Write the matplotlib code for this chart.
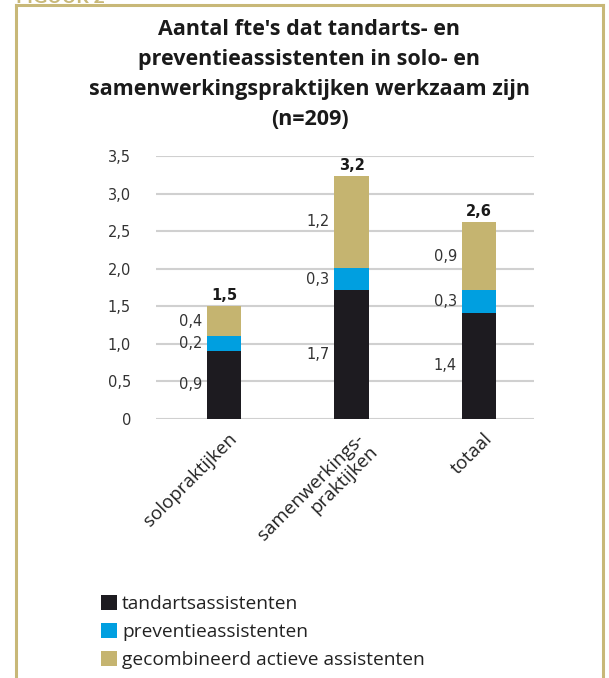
import matplotlib
matplotlib.use("Agg")
import matplotlib.pyplot as plt
import matplotlib.transforms as mtransforms
from matplotlib.lines import Line2D
import numpy as np

# data
categories = ["solopraktijken", "samenwerkings-\npraktijken", "totaal"]
tandarts = [0.90, 1.71, 1.41]
preventie = [0.20, 0.30, 0.30]
gecombineerd = [0.40, 1.23, 0.92]
series_names = ["tandartsassistenten", "preventieassistenten", "gecombineerd actieve assistenten"]
yticks = [0, 0.5, 1.0, 1.5, 2.0, 2.5, 3.0, 3.5]
title = "Aantal fte's dat tandarts- en\npreventieassistenten in solo- en\nsamenwerkingspraktijken werkzaam zijn\n(n=209)"

colors = ["#1d1b20", "#009fe0", "#c5b470"]
gold = "#c8b878"
W, H = 609, 678


def fx(px):
    return px / W


def fy(py):
    return 1 - py / H


def nl(v):
    return f"{v:.1f}".replace(".", ",")


fig = plt.figure(figsize=(W / 100, H / 100), dpi=100)
ax = fig.add_axes([fx(156), fy(419), fx(534) - fx(156), fy(156) - fy(419)])

x = np.arange(len(categories))
width = 0.267
stacks = [tandarts, preventie, gecombineerd]
bottom = np.zeros(len(categories))
handles = []
for vals, col, name in zip(stacks, colors, series_names):
    vals = np.array(vals)
    bars = ax.bar(x, vals, width, bottom=bottom, color=col, label=name, zorder=3)
    handles.append(bars)
    # segment labels left of the bar
    for xi, b, v in zip(x, bottom, vals):
        ax.annotate(nl(v), xy=(xi - width / 2, b + v / 2), xytext=(-5, 0),
                    textcoords="offset pixels", ha="right", va="center",
                    fontsize=10.5, color="#333333", family="DejaVu Sans")
    bottom = bottom + vals

# totals above bars
for xi, t in zip(x, bottom):
    ax.annotate(nl(t), xy=(xi, t), xytext=(0, 3), textcoords="offset pixels",
                ha="center", va="bottom", fontsize=10.5, fontweight="bold",
                color="#1a1a1a", family="DejaVu Sans")

ax.set_xlim(-0.533, 2.431)
ax.set_ylim(-0.004, 3.504)
ax.set_yticks(yticks)
ax.set_yticklabels([("0" if t == 0 else nl(t)) for t in yticks],
                   fontsize=10.5, color="#333333", family="DejaVu Sans")
ax.yaxis.grid(True, color="#d0d0d0", linewidth=1.5, zorder=0)
ax.set_axisbelow(True)
for s in ax.spines.values():
    s.set_visible(False)
ax.tick_params(axis="y", length=0, pad=18)
ax.tick_params(axis="x", length=0, pad=8)

ax.set_xticks(x)
labels = ax.set_xticklabels(categories, rotation=45, ha="right", va="top",
                            rotation_mode="anchor", fontsize=13.5, family="Open Sans",
                            color="#222222", multialignment="right", linespacing=1.0)
shift = mtransforms.ScaledTranslation(0.04, 0, fig.dpi_scale_trans)
for lab in labels:
    lab.set_transform(lab.get_transform() + shift)

# title
fig.text(fx(309.5), fy(19), title, ha="center", va="top", fontsize=15.5,
         fontweight="bold", family="Open Sans", color="#1a1a1a", linespacing=1.56)

# legend
leg = fig.legend(handles=handles, labels=series_names, loc="upper left",
                 bbox_to_anchor=(fx(101), fy(595)), frameon=False,
                 borderpad=0, borderaxespad=0,
                 handlelength=0.85, handleheight=0.85, handletextpad=0.25,
                 labelspacing=0.5, prop={"family": "Open Sans", "size": 13.8})
for t in leg.get_texts():
    t.set_color("#222222")

# gold frame and cut-off figure label
fig.add_artist(Line2D([fx(16), fx(16)], [fy(5), -0.1], color=gold, lw=2.2,
                      transform=fig.transFigure))
fig.add_artist(Line2D([fx(16), fx(603)], [fy(5), fy(5)], color=gold, lw=2.2,
                      transform=fig.transFigure))
fig.add_artist(Line2D([fx(603), fx(603)], [fy(5), -0.1], color=gold, lw=2.2,
                      transform=fig.transFigure))
fig.text(fx(16), fy(3), "FIGUUR 2", ha="left", va="baseline", fontsize=14,
         fontweight="bold", family="Lato", color=gold)

fig.savefig("out.png", dpi=100)
